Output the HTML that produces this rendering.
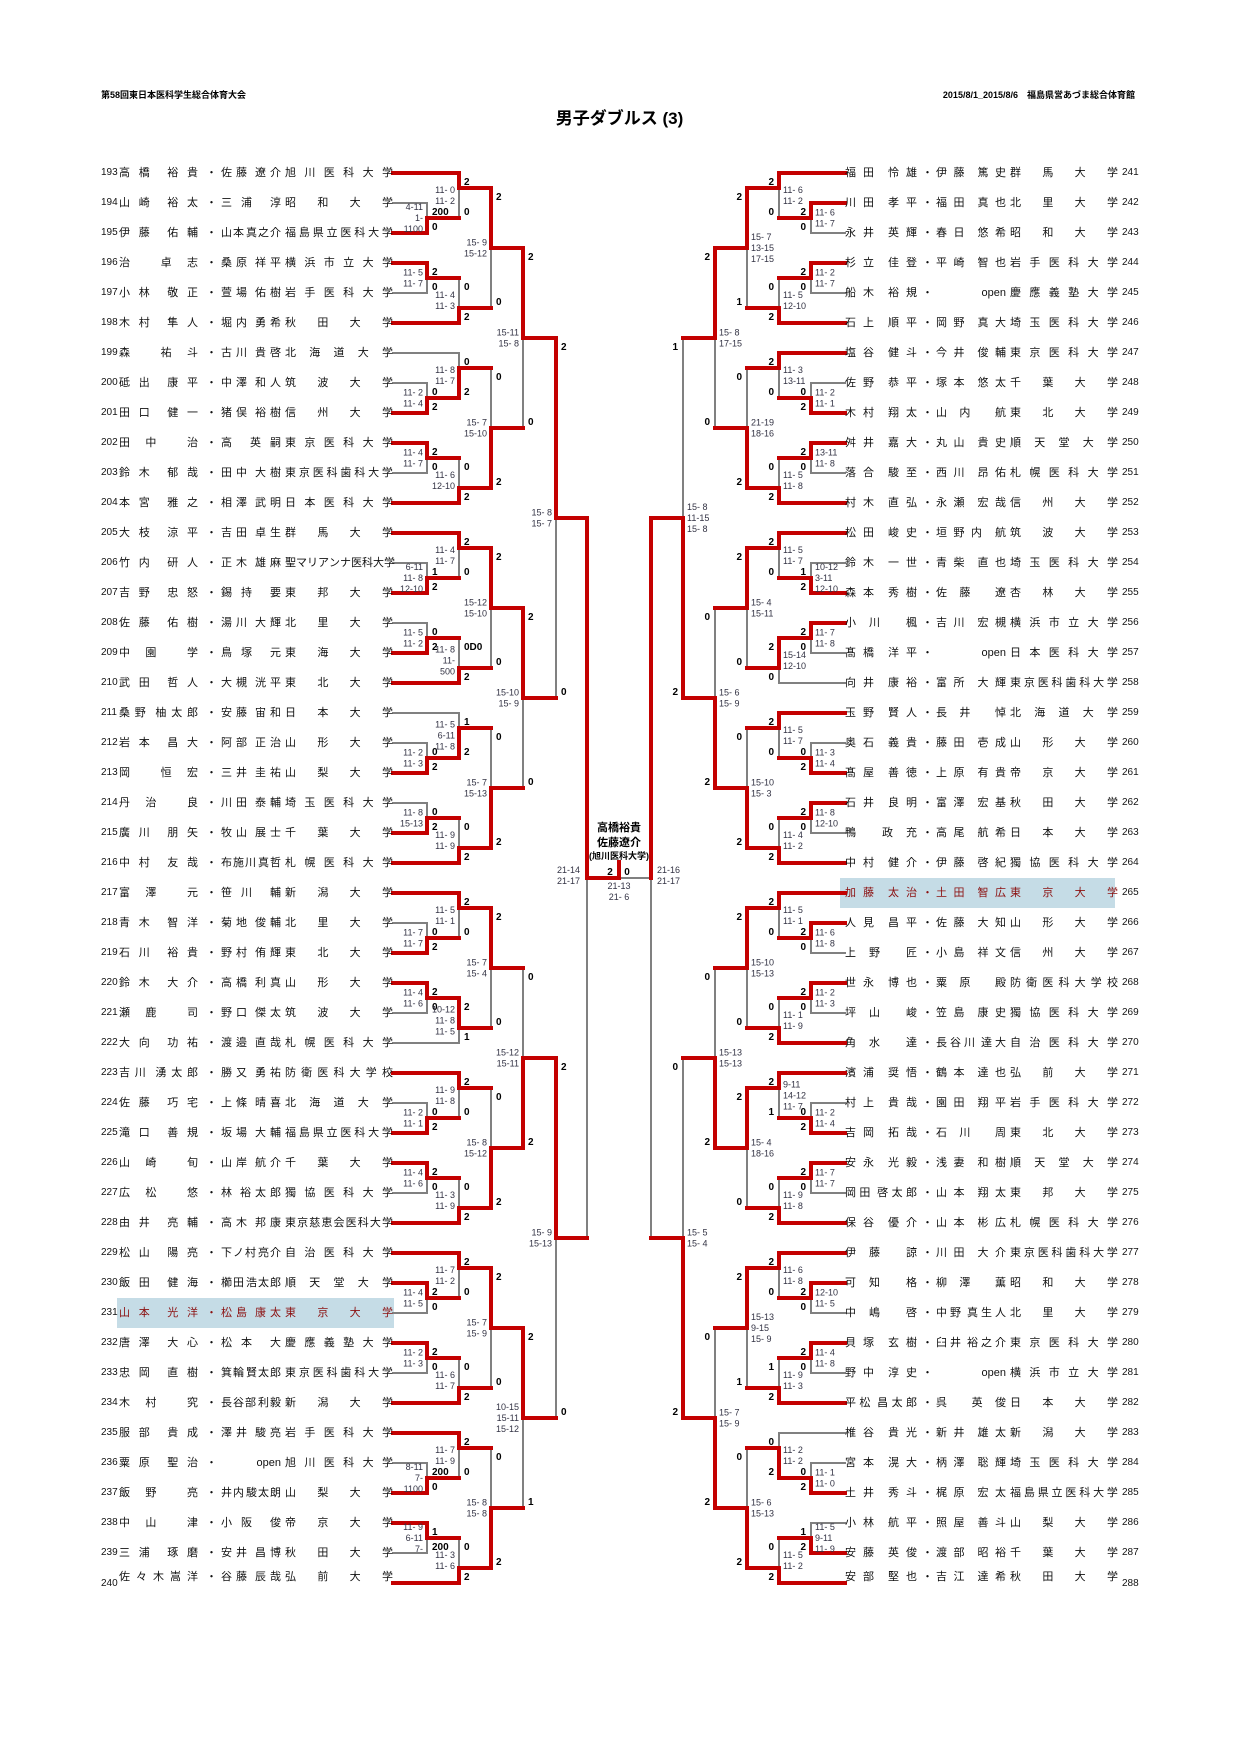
<!DOCTYPE html>
<html><head><meta charset="utf-8">
<style>
html,body{margin:0;padding:0;background:#fff;}
#wrap{position:relative;width:1239px;height:1754px;overflow:hidden;font-family:"Liberation Sans","Noto Sans CJK JP",sans-serif;}
svg{position:absolute;left:0;top:0;}
.cell{position:absolute;height:14px;line-height:14px;display:flex;justify-content:space-between;font-size:11px;color:#111;white-space:nowrap;}
.cell span{display:block;}
.num{position:absolute;font-size:10px;line-height:14px;height:14px;color:#111;}
.hl{position:absolute;background:#c5dce6;}
.t{position:absolute;font-weight:bold;white-space:nowrap;}
</style></head><body><div id="wrap">
<div class="hl" style="left:117px;top:1298px;width:277px;height:30px"></div>
<div class="hl" style="left:840px;top:878px;width:275px;height:30px"></div>
<div class="t" style="left:101px;top:88px;font-size:9px">第58回東日本医科学生総合体育大会</div>
<div class="t" style="right:104px;top:88px;font-size:9px">2015/8/1_2015/8/6　福島県営あづま総合体育館</div>
<div class="t" style="left:0;width:1239px;text-align:center;top:104px;font-size:17px">男子ダブルス (3)</div>
<div class="t" style="left:569px;width:100px;text-align:center;top:819px;font-size:11px">高橋裕貴</div>
<div class="t" style="left:569px;width:100px;text-align:center;top:834px;font-size:11px">佐藤遼介</div>
<div class="t" style="left:569px;width:100px;text-align:center;top:849px;font-size:9px">(旭川医科大学)</div>
<svg id="sv" width="1239" height="1754" xmlns="http://www.w3.org/2000/svg"></svg>
<div id="names"></div>
</div>
<script>
var L=["高橋 裕貴|佐藤 遼介|旭川医科大学","山崎 裕太|三浦 淳|昭和大学","伊藤 佑輔|山本 真之介|福島県立医科大学","治 卓志|桑原 祥平|横浜市立大学","小林 敬正|萱場 佑樹|岩手医科大学","木村 隼人|堀内 勇希|秋田大学","森 祐斗|古川 貴啓|北海道大学","砥出 康平|中澤 和人|筑波大学","田口 健一|猪俣 裕樹|信州大学","田中 治|高 英嗣|東京医科大学","鈴木 郁哉|田中 大樹|東京医科歯科大学","本宮 雅之|相澤 武明|日本医科大学","大枝 涼平|吉田 卓生|群馬大学","竹内 研人|正木 雄麻|聖マリアンナ医科大学","吉野 忠怒|錫持 要|東邦大学","佐藤 佑樹|湯川 大輝|北里大学","中園 学|鳥塚 元|東海大学","武田 哲人|大槻 洸平|東北大学","桑野 柚太郎|安藤 宙和|日本大学","岩本 昌大|阿部 正治|山形大学","岡 恒宏|三井 圭祐|山梨大学","丹治 良|川田 泰輔|埼玉医科大学","廣川 朋矢|牧山 展士|千葉大学","中村 友哉|布施川 真哲|札幌医科大学","富澤 元|笹川 輔|新潟大学","青木 智洋|菊地 俊輔|北里大学","石川 裕貴|野村 侑輝|東北大学","鈴木 大介|高橋 利真|山形大学","瀬鹿 司|野口 傑太|筑波大学","大向 功祐|渡邉 直哉|札幌医科大学","吉川 湧太郎|勝又 勇祐|防衛医科大学校","佐藤 巧宅|上條 晴喜|北海道大学","滝口 善規|坂場 大輔|福島県立医科大学","山崎 旬|山岸 航介|千葉大学","広松 悠|林 裕太郎|獨協医科大学","由井 亮輔|高木 邦康|東京慈恵会医科大学","松山 陽亮|下ノ村 亮介|自治医科大学","飯田 健海|櫛田 浩太郎|順天堂大学","山本 光洋|松島 康太|東京大学","唐澤 大心|松本 大|慶應義塾大学","忠岡 直樹|箕輪 賢太郎|東京医科歯科大学","木村 究|長谷部 利毅|新潟大学","服部 貴成|澤井 駿亮|岩手医科大学","粟原 聖治|open|旭川医科大学","飯野 亮|井内 駿太朗|山梨大学","中山 津|小阪 俊|帝京大学","三浦 琢磨|安井 昌博|秋田大学","佐々木嵩洋|谷藤 辰哉|弘前大学"];
var R=["福田 怜雄|伊藤 篤史|群馬大学","川田 孝平|福田 真也|北里大学","永井 英輝|春日 悠希|昭和大学","杉立 佳登|平崎 智也|岩手医科大学","船木 裕規|open|慶應義塾大学","石上 順平|岡野 真大|埼玉医科大学","塩谷 健斗|今井 俊輔|東京医科大学","佐野 恭平|塚本 悠太|千葉大学","木村 翔太|山内 航|東北大学","舛井 嘉大|丸山 貴史|順天堂大学","落合 駿至|西川 昂佑|札幌医科大学","村木 直弘|永瀬 宏哉|信州大学","松田 峻史|垣野内 航|筑波大学","鈴木 一世|青柴 直也|埼玉医科大学","森本 秀樹|佐藤 遼|杏林大学","小川 楓|吉川 宏槻|横浜市立大学","髙橋 洋平|open|日本医科大学","向井 康裕|富所 大輝|東京医科歯科大学","玉野 賢人|長井 悼|北海道大学","奥石 義貴|藤田 壱成|山形大学","髙屋 善徳|上原 有貴|帝京大学","石井 良明|富澤 宏基|秋田大学","鴨 政充|高尾 航希|日本大学","中村 健介|伊藤 啓紀|獨協医科大学","加藤 太治|土田 智広|東京大学","人見 昌平|佐藤 大知|山形大学","上野 匠|小島 祥文|信州大学","世永 博也|粟原 殿|防衛医科大学校","坪山 峻|笠島 康史|獨協医科大学","角水 達|長谷川 達大|自治医科大学","濱浦 奨悟|鶴本 達也|弘前大学","村上 貴哉|園田 翔平|岩手医科大学","吉岡 拓哉|石川 周|東北大学","安永 光毅|浅妻 和樹|順天堂大学","岡田 啓太郎|山本 翔太|東邦大学","保谷 優介|山本 彬広|札幌医科大学","伊藤 諒|川田 大介|東京医科歯科大学","可知 格|柳澤 薫|昭和大学","中嶋 啓|中野 真生人|北里大学","貝塚 玄樹|臼井 裕之介|東京医科大学","野中 淳史|open|横浜市立大学","平松 昌太郎|呉 英俊|日本大学","椎谷 貴光|新井 雄太|新潟大学","宮本 滉大|柄澤 聡輝|埼玉医科大学","土井 秀斗|梶原 宏太|福島県立医科大学","小林 航平|照屋 善斗|山梨大学","安藤 英俊|渡部 昭裕|千葉大学","安部 堅也|吉江 達希|秋田大学"];
function cell(s,l,w,y,col){
  var h='';var jc='space-between';
  if(s==='open'){jc='flex-end';h='<span>open</span>';}
  else{for(var c of s){h+= c===' '?'<span></span>':'<span>'+c+'</span>';}}
  return '<div class="cell" style="left:'+l+'px;width:'+w+'px;top:'+(y-7)+'px;justify-content:'+jc+';color:'+col+'">'+h+'</div>';
}
var out='';
function rowY(i){return 173+30*i;}
for(var i=0;i<48;i++){
  var y=rowY(i);var p=L[i].split('|');var col=(i==38)?'#8b1010':'#111';
  var ty=(i==47)?y-6:y;
  out+='<div class="num" style="left:101px;top:'+(y-7+(i==47?1:0))+'px">'+(193+i)+'</div>';
  out+=cell(p[0],119,79,ty,col)+'<div class="cell" style="left:206px;width:8px;top:'+(ty-7)+'px;color:'+col+'"><span>・</span></div>'+cell(p[1],221,60,ty,col)+cell(p[2],285,108,ty,col);
  var q=R[i].split('|');col=(i==24)?'#8b1010':'#111';
  out+=cell(q[0],845,72,ty,col)+'<div class="cell" style="left:922px;width:8px;top:'+(ty-7)+'px;color:'+col+'"><span>・</span></div>'+cell(q[1],936,70,ty,col)+cell(q[2],1010,108,ty,col);
  out+='<div class="num" style="left:1122px;top:'+(y-7+(i==47?1:0))+'px">'+(241+i)+'</div>';
}
document.getElementById('names').innerHTML=out;

var grey='',red='',txt='';
function seg(x1,y1,x2,y2,r){var s='<line x1="'+x1+'" y1="'+y1+'" x2="'+x2+'" y2="'+y2+'"/>';if(r)red+=s;else grey+=s;}
function T(x,y,s,anc,bold){txt+='<text x="'+x+'" y="'+y+'" text-anchor="'+anc+'"'+(bold?' font-weight="bold" font-size="10" fill="#000"':' font-size="9" fill="#334"')+'>'+s+'</text>';}
function match(x,yA,yB,yj,w,sc,res,dir){
  seg(x,yA,x,yj,w==0);seg(x,yj,x,yB,w==1);
  var n=sc.length,mid=(yA+yB)/2;
  for(var k=0;k<n;k++){var yy=mid-(n-1)*5.5+k*11+3;
    if(dir>0)T(x-4,yy,sc[k],'end');else T(x+4,yy,sc[k],'start');}
  if(res){
    if(dir>0){T(x+5,yA+12,res[0],'start',1);T(x+5,yB-3,res[1],'start',1);}
    else{T(x-5,yA+12,res[0],'end',1);T(x-5,yB-3,res[1],'end',1);}
  }
}
function side(X,edge,dir,TR,R3,R4,R5){
  var js=[];
  for(var t=0;t<16;t++){
    var y0=rowY(3*t),ys=[y0,y0+30,y0+60],A=(t%2==0);
    var d=TR[t],p=d[0],s=d[1];
    var seed=A?0:2,pa=A?1:0,pb=A?2:1;
    var ya=ys[pa],yb=ys[pb];
    seg(edge,ya,X[0],ya,p==0);seg(edge,yb,X[0],yb,p==1);
    var pj=(ya+yb)/2;match(X[0],ya,yb,pj,p,d[2],d[3],dir);
    seg(X[0],pj,X[1],pj,true);
    var yA,yB,jj,sw;
    if(A){yA=ys[0];yB=pj;jj=yA+15;sw=(s==0);}else{yA=pj;yB=ys[2];jj=yB-15;sw=(s==1);}
    seg(edge,ys[seed],X[1],ys[seed],sw);
    match(X[1],yA,yB,jj,s,d[4],d[5],dir);
    seg(X[1],jj,X[2],jj,true);js.push(jj);
  }
  var rounds=[R3,R4,R5];
  for(var r=0;r<3;r++){
    var nj=[];
    for(var m=0;m<js.length/2;m++){
      var a=js[2*m],b=js[2*m+1],yj=(a+b)/2,d=rounds[r][m];
      match(X[2+r],a,b,yj,d[0],d[1],d[2],dir);
      seg(X[2+r],yj,X[3+r],yj,true);nj.push(yj);
    }
    js=nj;
  }
  return js;
}
var LT=[
[1,0,["4-11","1-","1100"],["200","0"],["11- 0","11- 2"],["2","0"]],
[0,1,["11- 5","11- 7"],["2","0"],["11- 4","11- 3"],["0","2"]],
[1,1,["11- 2","11- 4"],["0","2"],["11- 8","11- 7"],["0","2"]],
[0,1,["11- 4","11- 7"],["2","0"],["11- 6","12-10"],["0","2"]],
[1,0,["6-11","11- 8","12-10"],["1","2"],["11- 4","11- 7"],["2","0"]],
[1,1,["11- 5","11- 2"],["0","2"],["11- 8","11-","500"],["0D0","2"]],
[1,1,["11- 2","11- 3"],["0","2"],["11- 5","6-11","11- 8"],["1","2"]],
[1,1,["11- 8","15-13"],["0","2"],["11- 9","11- 9"],["0","2"]],
[1,0,["11- 7","11- 7"],["0","2"],["11- 5","11- 1"],["2","0"]],
[0,0,["11- 4","11- 6"],["2","0"],["10-12","11- 8","11- 5"],["2","1"]],
[1,0,["11- 2","11- 1"],["0","2"],["11- 9","11- 8"],["2","0"]],
[0,1,["11- 4","11- 6"],["2","0"],["11- 3","11- 9"],["0","2"]],
[0,0,["11- 4","11- 5"],["2","0"],["11- 7","11- 2"],["2","0"]],
[0,1,["11- 2","11- 3"],["2","0"],["11- 6","11- 7"],["0","2"]],
[1,0,["8-11","7-","1100"],["200","0"],["11- 7","11- 9"],["2","0"]],
[0,1,["11- 9","6-11","7-"],["1","200"],["11- 3","11- 6"],["0","2"]]];
var LR3=[[0,["15- 9","15-12"],["2","0"]],[1,["15- 7","15-10"],["0","2"]],[0,["15-12","15-10"],["2","0"]],[1,["15- 7","15-13"],["0","2"]],[0,["15- 7","15- 4"],["2","0"]],[1,["15- 8","15-12"],["0","2"]],[0,["15- 7","15- 9"],["2","0"]],[1,["15- 8","15- 8"],["0","2"]]];
var LR4=[[0,["15-11","15- 8"],["2","0"]],[0,["15-10","15- 9"],["2","0"]],[1,["15-12","15-11"],["0","2"]],[0,["10-15","15-11","15-12"],["2","1"]]];
var LR5=[[0,["15- 8","15- 7"],["2","0"]],[0,["15- 9","15-13"],["2","0"]]];
var RT=[
[0,0,["11- 6","11- 7"],["2","0"],["11- 6","11- 2"],["2","0"]],
[0,1,["11- 2","11- 7"],["2","0"],["11- 5","12-10"],["0","2"]],
[1,0,["11- 2","11- 1"],["0","2"],["11- 3","13-11"],["2","0"]],
[0,1,["13-11","11- 8"],["2","0"],["11- 5","11- 8"],["0","2"]],
[1,0,["10-12","3-11","12-10"],["1","2"],["11- 5","11- 7"],["2","0"]],
[0,0,["11- 7","11- 8"],["2","0"],["15-14","12-10"],["2","0"]],
[1,0,["11- 3","11- 4"],["0","2"],["11- 5","11- 7"],["2","0"]],
[0,1,["11- 8","12-10"],["2","0"],["11- 4","11- 2"],["0","2"]],
[0,0,["11- 6","11- 8"],["2","0"],["11- 5","11- 1"],["2","0"]],
[0,1,["11- 2","11- 3"],["2","0"],["11- 1","11- 9"],["0","2"]],
[1,0,["11- 2","11- 4"],["0","2"],["9-11","14-12","11- 7"],["2","1"]],
[0,1,["11- 7","11- 7"],["2","0"],["11- 9","11- 8"],["0","2"]],
[0,0,["12-10","11- 5"],["2","0"],["11- 6","11- 8"],["2","0"]],
[0,1,["11- 4","11- 8"],["2","0"],["11- 9","11- 3"],["1","2"]],
[1,1,["11- 1","11- 0"],["0","2"],["11- 2","11- 2"],["0","2"]],
[1,1,["11- 5","9-11","11- 9"],["1","2"],["11- 5","11- 2"],["0","2"]]];
var RR3=[[0,["15- 7","13-15","17-15"],["2","1"]],[1,["21-19","18-16"],["0","2"]],[0,["15- 4","15-11"],["2","0"]],[1,["15-10","15- 3"],["0","2"]],[0,["15-10","15-13"],["2","0"]],[0,["15- 4","18-16"],["2","0"]],[0,["15-13","9-15","15- 9"],["2","1"]],[1,["15- 6","15-13"],["0","2"]]];
var RR4=[[0,["15- 8","17-15"],["2","0"]],[1,["15- 6","15- 9"],["0","2"]],[1,["15-13","15-13"],["0","2"]],[1,["15- 7","15- 9"],["0","2"]]];
var RR5=[[1,["15- 8","11-15","15- 8"],["1","2"]],[1,["15- 5","15- 4"],["0","2"]]];
var lj=side([427,459,491,523,556,587],393,1,LT,LR3,LR4,LR5);
var rj=side([811,779,747,715,683,651],845,-1,RT,RR3,RR4,RR5);
var fy=(lj[0]+lj[1])/2;
seg(587,lj[0],587,fy,true);seg(587,fy,587,lj[1],false);
seg(651,rj[0],651,fy,true);seg(651,fy,651,rj[1],false);
seg(587,fy,619,fy,true);seg(619,fy,651,fy,false);seg(619,fy,619,fy-16,true);
T(580,fy-5,"21-14","end");T(580,fy+6,"21-17","end");
T(657,fy-5,"21-16","start");T(657,fy+6,"21-17","start");
T(619,fy+11,"21-13","middle");T(619,fy+22,"21- 6","middle");
T(610,fy-3,"2","middle",1);T(627,fy-3,"0","middle",1);
document.getElementById('sv').innerHTML='<g stroke="#808080" stroke-width="2" stroke-linecap="square">'+grey+'</g><g stroke="#c40000" stroke-width="4" stroke-linecap="square">'+red+'</g><g font-family="Liberation Sans, sans-serif">'+txt+'</g>';
</script>
</body></html>
